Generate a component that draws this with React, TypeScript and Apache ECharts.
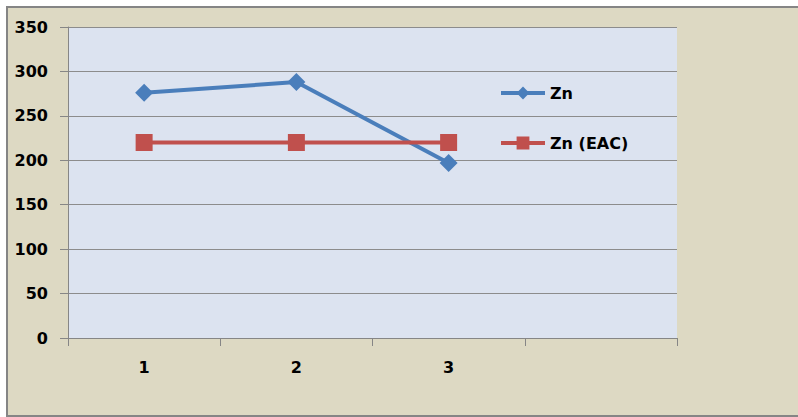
import React, { useEffect, useRef } from "react";
import * as echarts from "echarts";

const categories = ["1", "2", "3", ""];
const znValues = [276, 288, 197];
const znEacValues = [220, 220, 220];
const yTicks = { min: 0, max: 350, interval: 50 };

const FONT = "DejaVu Sans";

export default function App() {
  const ref = useRef<HTMLDivElement>(null);

  useEffect(() => {
    if (!ref.current) return;
    const chart = echarts.init(ref.current, undefined, { renderer: "svg" });
    chart.setOption({
      animation: false,
      backgroundColor: "transparent",
      grid: {
        left: 60,
        top: 19,
        width: 609,
        height: 311,
        show: true,
        backgroundColor: "#DCE3F0",
        borderWidth: 0,
      },
      legend: {
        orient: "vertical",
        left: 486,
        top: 72,
        padding: 5,
        itemWidth: 44,
        itemHeight: 16,
        itemGap: 34,
        lineStyle: { width: 4 },
        textStyle: { fontFamily: FONT, fontSize: 16, fontWeight: "bold", color: "#000" },
        data: ["Zn", "Zn (EAC)"],
      },
      xAxis: {
        type: "category",
        data: categories,
        boundaryGap: true,
        axisLine: { show: true, lineStyle: { color: "#868686", width: 1 } },
        axisTick: { show: true, length: 8, lineStyle: { color: "#868686" } },
        axisLabel: {
          margin: 21,
          fontFamily: FONT,
          fontSize: 16,
          fontWeight: "bold",
          color: "#000",
        },
        splitLine: { show: false },
      },
      yAxis: {
        type: "value",
        min: yTicks.min,
        max: yTicks.max,
        interval: yTicks.interval,
        axisLine: { show: true, lineStyle: { color: "#868686", width: 1 } },
        axisTick: { show: true, length: 8, lineStyle: { color: "#868686" } },
        axisLabel: {
          margin: 20,
          fontFamily: FONT,
          fontSize: 16,
          fontWeight: "bold",
          color: "#000",
        },
        splitLine: { show: true, lineStyle: { color: "#8C8C8C", width: 1 } },
      },
      series: [
        {
          name: "Zn",
          type: "line",
          data: znValues,
          symbol: "diamond",
          symbolSize: 18,
          lineStyle: { color: "#4A7EBB", width: 4 },
          itemStyle: { color: "#4A7EBB" },
        },
        {
          name: "Zn (EAC)",
          type: "line",
          data: znEacValues,
          symbol: "rect",
          symbolSize: 17,
          lineStyle: { color: "#C0504D", width: 4 },
          itemStyle: { color: "#C0504D" },
        },
      ],
    });
    return () => chart.dispose();
  }, []);

  return (
    <div
      style={{
        position: "absolute",
        left: 6,
        top: 6,
        width: 794,
        height: 411,
        boxSizing: "border-box",
        border: "2px solid #858585",
        background: "#DDD9C3",
      }}
    >
      <div ref={ref} style={{ width: 790, height: 407 }} />
    </div>
  );
}
